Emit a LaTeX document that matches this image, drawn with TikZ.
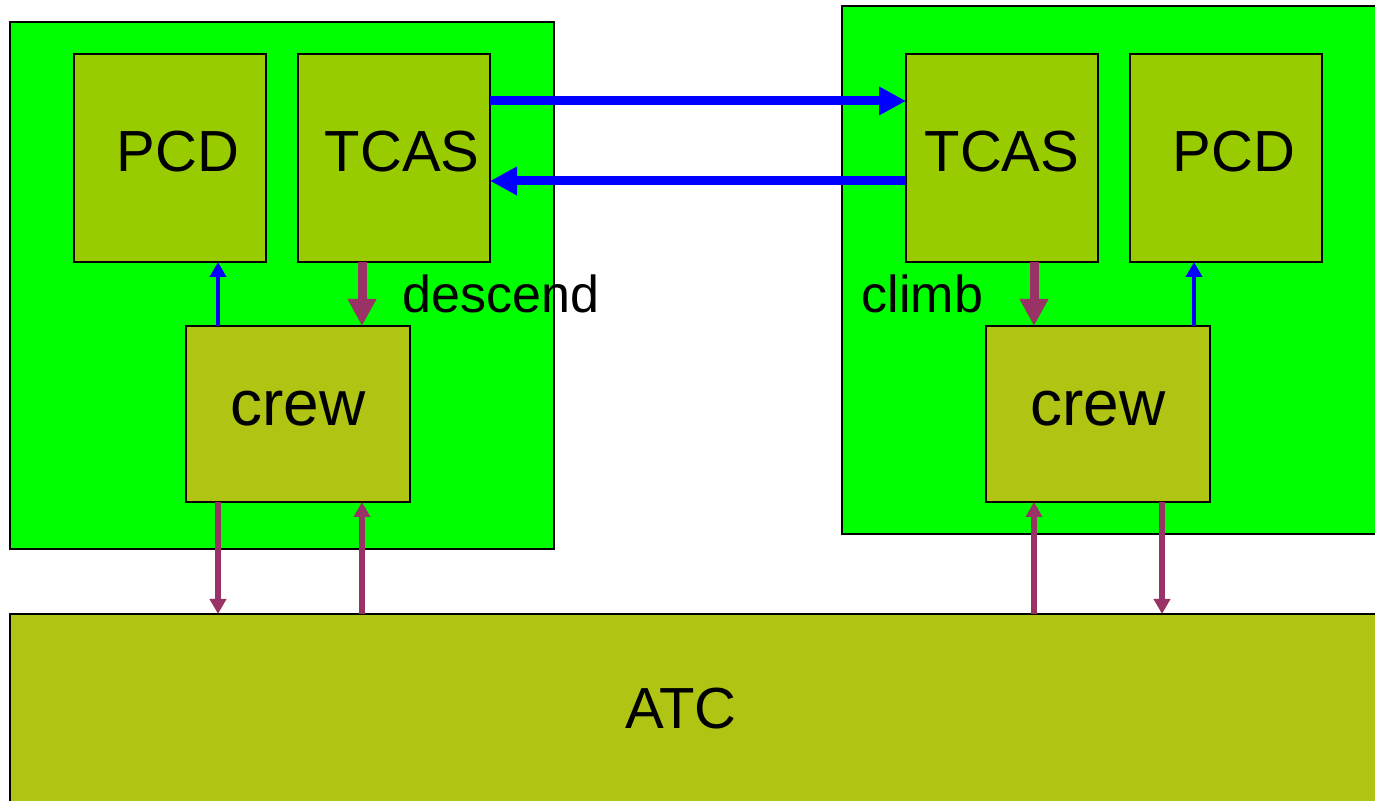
\documentclass[tikz,border=0pt]{standalone}
\usepackage{fontspec}
\setmainfont{Liberation Sans}
\usetikzlibrary{arrows.meta,positioning}
\definecolor{cGreen}{RGB}{0,255,0}
\definecolor{cLime}{RGB}{153,204,0}
\definecolor{cOlive}{RGB}{176,196,20}
\definecolor{cPlum}{RGB}{153,51,102}
\definecolor{cBlue}{RGB}{0,0,255}
\tikzset{
  basebox/.style={rectangle,draw=black,line width=0.6pt,inner sep=0pt,outer sep=0pt},
  planebox/.style={basebox,fill=cGreen},
  unitnode/.style={basebox,fill=cLime,minimum width=1.92cm,
                   minimum height=2.08cm,font=\fontsize{16.5}{20}\selectfont,
                   text height=0.42cm,text depth=0.14cm},
  crewnode/.style={basebox,fill=cOlive,minimum width=2.24cm,
                   minimum height=1.76cm,font=\fontsize{18.2}{22}\selectfont,
                   text height=0.42cm,text depth=0.18cm},
  atcnode/.style={basebox,fill=cOlive,font=\fontsize{16.5}{20}\selectfont,
                  text height=0.42cm,text depth=0.09cm},
  lbl/.style={anchor=base west,inner sep=0pt,font=\fontsize{14.8}{18}\selectfont},
  bluarr/.style={-{Triangle[length=0.27cm,width=0.27cm]},line width=0.09cm,color=cBlue},
  thnblu/.style={-{Triangle[length=0.15cm,width=0.16cm]},line width=0.04cm,color=cBlue},
  plmarr/.style={-{Triangle[length=0.27cm,width=0.27cm]},line width=0.09cm,color=cPlum},
  thnplm/.style={-{Triangle[length=0.15cm,width=0.16cm]},line width=0.055cm,color=cPlum}
}

\begin{document}
\begin{tikzpicture}
  \useasboundingbox (0,0) rectangle (13.75,8.01);
  \clip (0,0) rectangle (13.75,8.01);

  % aircraft
  \node[planebox,minimum width=5.44cm,minimum height=5.27cm] (lplane) at (2.82,5.155) {};
  \node[planebox,minimum width=5.48cm,minimum height=5.28cm] (rplane) at (11.16,5.31) {};

  \node[atcnode,minimum width=13.8cm,minimum height=1.97cm] (atc) at (7.0,0.885)
      {\hspace*{-0.38cm}ATC};

  \node[unitnode] (lpcd) at (1.70,6.43) {\ PCD};
  \node[unitnode,right=0.32cm of lpcd] (ltcas) {\ TCAS};
  \node[unitnode] (rtcas) at (10.02,6.43) {TCAS};
  \node[unitnode,right=0.32cm of rtcas] (rpcd) {\ PCD};

  \node[crewnode] (lcrew) at (2.98,3.87) {crew};
  \node[crewnode] (rcrew) at (10.98,3.87) {crew};

  \node[lbl] (ldesc) at (4.02,4.88) {descend};
  \node[lbl] (rclimb) at (8.61,4.88) {climb};

  % TCAS link
  \draw[bluarr] ([yshift=0.57cm]ltcas.east) -- ([yshift=0.57cm]rtcas.west);
  \draw[bluarr] ([yshift=-0.23cm]rtcas.west) -- ([yshift=-0.23cm]ltcas.east);

  % inside the cockpits
  \draw[thnblu] ([xshift=-0.80cm]lcrew.north) -- ([xshift=-0.80cm]lcrew.north |- lpcd.south);
  \draw[plmarr] ([xshift=-0.32cm]ltcas.south) -- ([xshift=-0.32cm]ltcas.south |- lcrew.north);
  \draw[thnblu] ([xshift=0.96cm]rcrew.north) -- ([xshift=0.96cm]rcrew.north |- rpcd.south);
  \draw[plmarr] ([xshift=0.32cm]rtcas.south) -- ([xshift=0.32cm]rtcas.south |- rcrew.north);

  % crew <-> ATC
  \draw[thnplm] ([xshift=-0.80cm]lcrew.south) -- ([xshift=-0.80cm]lcrew.south |- atc.north);
  \draw[thnplm] ([xshift=0.64cm]lcrew.south |- atc.north) -- ([xshift=0.64cm]lcrew.south);
  \draw[thnplm] ([xshift=-0.64cm]rcrew.south |- atc.north) -- ([xshift=-0.64cm]rcrew.south);
  \draw[thnplm] ([xshift=0.64cm]rcrew.south) -- ([xshift=0.64cm]rcrew.south |- atc.north);
\end{tikzpicture}
\end{document}
